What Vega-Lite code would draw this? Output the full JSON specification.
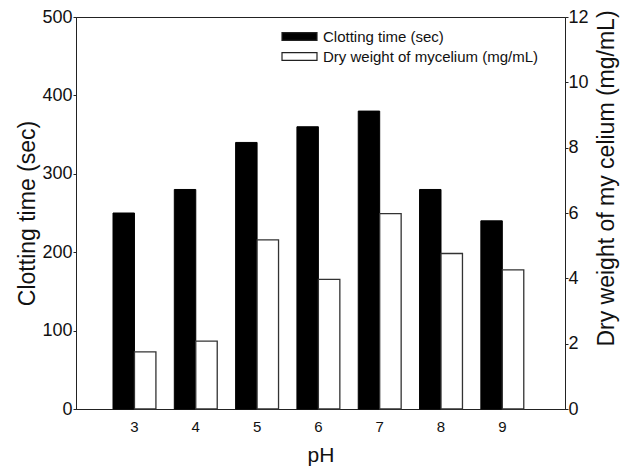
{
  "$schema": "https://vega.github.io/schema/vega-lite/v6.json",
  "width": 489,
  "height": 392,
  "autosize": {"type": "none"},
  "padding": {"left": 76, "top": 17, "right": 62, "bottom": 61},
  "background": "white",
  "config": {
    "font": "Liberation Sans",
    "view": {"stroke": "#222", "strokeWidth": 1},
    "axis": {"labelFont": "Liberation Sans", "titleFont": "Liberation Sans", "titleFontWeight": "normal", "domainColor": "#222", "tickColor": "#222", "labelColor": "#111", "titleColor": "#111", "grid": false}
  },
  "data": {
    "values": [
      {"pH": "3", "series": "Clotting time (sec)", "value": 250},
      {"pH": "4", "series": "Clotting time (sec)", "value": 280},
      {"pH": "5", "series": "Clotting time (sec)", "value": 340},
      {"pH": "6", "series": "Clotting time (sec)", "value": 360},
      {"pH": "7", "series": "Clotting time (sec)", "value": 380},
      {"pH": "8", "series": "Clotting time (sec)", "value": 280},
      {"pH": "9", "series": "Clotting time (sec)", "value": 240},
      {"pH": "3", "series": "Dry weight of mycelium (mg/mL)", "value": 1.75},
      {"pH": "4", "series": "Dry weight of mycelium (mg/mL)", "value": 2.08},
      {"pH": "5", "series": "Dry weight of mycelium (mg/mL)", "value": 5.18},
      {"pH": "6", "series": "Dry weight of mycelium (mg/mL)", "value": 3.97},
      {"pH": "7", "series": "Dry weight of mycelium (mg/mL)", "value": 5.98},
      {"pH": "8", "series": "Dry weight of mycelium (mg/mL)", "value": 4.76},
      {"pH": "9", "series": "Dry weight of mycelium (mg/mL)", "value": 4.26}
    ]
  },
  "encoding": {
    "x": {
      "field": "pH", "type": "ordinal",
      "scale": {"paddingInner": 0.3, "paddingOuter": 0.638, "align": 0.473},
      "axis": {"labelAngle": 0, "ticks": false, "labelPadding": 10, "labelFontSize": 15, "title": "pH", "titleFontSize": 21, "titlePadding": 10}
    },
    "xOffset": {"field": "series", "type": "nominal", "scale": {"domain": ["Clotting time (sec)", "Dry weight of mycelium (mg/mL)"], "paddingInner": 0, "paddingOuter": 0}},
    "color": {
      "field": "series", "type": "nominal",
      "scale": {"domain": ["Clotting time (sec)", "Dry weight of mycelium (mg/mL)"], "range": ["#000000", "#ffffff"]},
      "legend": {
        "title": null, "orient": "none", "legendX": 214, "legendY": 10, "padding": 0,
        "symbolType": "M-2,-0.45H2V0.45H-2Z", "symbolSize": 306, "symbolStrokeColor": "#222", "symbolStrokeWidth": 1.2,
        "labelFont": "Liberation Sans", "labelFontSize": 15, "labelColor": "#111", "labelOffset": 14, "labelLimit": 400, "rowPadding": 2
      }
    }
  },
  "layer": [
    {
      "transform": [{"filter": "datum.series === 'Clotting time (sec)'"}],
      "mark": {"type": "bar", "stroke": "#000", "strokeWidth": 1},
      "encoding": {
        "y": {
          "field": "value", "type": "quantitative",
          "scale": {"domain": [0, 500], "nice": false},
          "axis": {"orient": "left", "values": [0, 100, 200, 300, 400, 500], "tickSize": 3, "labelPadding": 1, "labelFontSize": 18, "title": "Clotting time (sec)", "titleFontSize": 23, "titlePadding": 2}
        }
      }
    },
    {
      "transform": [{"filter": "datum.series === 'Dry weight of mycelium (mg/mL)'"}],
      "mark": {"type": "bar", "stroke": "#333", "strokeWidth": 1.3},
      "encoding": {
        "y": {
          "field": "value", "type": "quantitative",
          "scale": {"domain": [0, 12], "nice": false},
          "axis": {"orient": "right", "values": [0, 2, 4, 6, 8, 10, 12], "tickSize": 3, "labelPadding": 0, "labelFontSize": 18, "title": "Dry weight of my celium (mg/mL)", "titleFontSize": 23, "titleAngle": -90, "titlePadding": 30, "titleY": 161}
        }
      }
    }
  ],
  "resolve": {"scale": {"y": "independent"}}
}
